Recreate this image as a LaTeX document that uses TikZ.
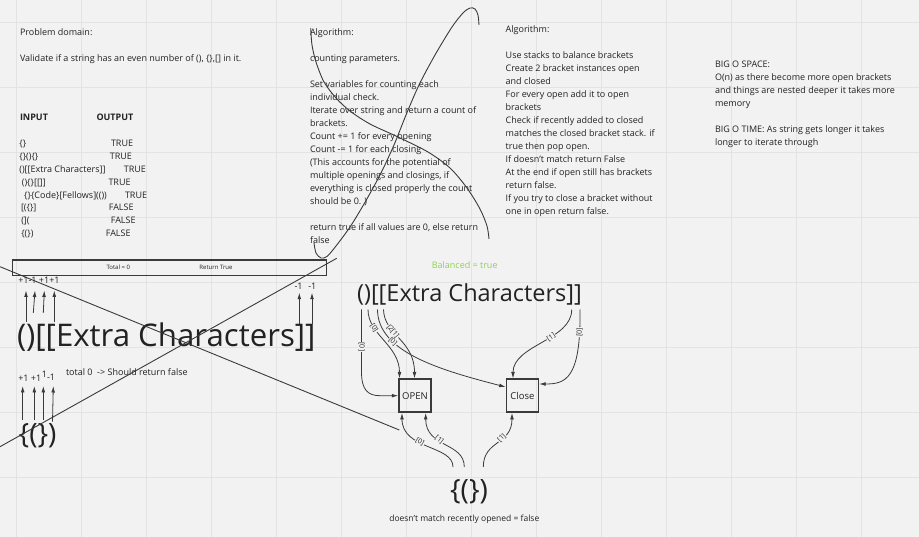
\documentclass[tikz,border=0pt]{standalone}
\usepackage{fontspec}
\setmainfont{Open Sans}
\usetikzlibrary{arrows.meta}
\definecolor{bg}{HTML}{F2F2F2}
\definecolor{gridc}{HTML}{E3E3E3}
\definecolor{ink}{HTML}{222222}
\definecolor{linec}{HTML}{3A3A3A}
\definecolor{okgreen}{HTML}{8FD14F}
\newcommand\lns[1]{\begin{tabular}[t]{@{}l@{}}#1\end{tabular}}
\begin{document}
\begin{tikzpicture}[x=1pt,y=-1pt,
 gridline/.style={gridc, line width=0.9pt},
 txt/.style={anchor=base west, inner sep=0pt, outer sep=0pt, text=ink, font=\fontsize{9}{13}\selectfont},
 boldtxt/.style={txt, font=\fontsize{9}{13}\selectfont\bfseries},
 smalltxt/.style={inner sep=0pt, text=ink, font=\fontsize{6}{7}\selectfont},
 bigtxt/.style={inner sep=0pt, text=ink, font=\fontsize{31.2}{37}\selectfont},
 midtxt/.style={inner sep=0pt, text=ink, font=\fontsize{23.5}{28}\selectfont},
 bracetxt/.style={inner sep=0pt, text=ink, font=\fontsize{28}{34}\selectfont},
 arr/.style={-{Latex[length=6.5pt,width=3.8pt]}, linec, line width=0.8pt},
 lbl/.style={fill=bg, inner sep=0.6pt, text=ink, font=\fontsize{7}{8}\selectfont, sloped},
 boxn/.style={draw=linec, line width=1.5pt, minimum width=32pt, minimum height=33pt, inner sep=0pt, text=ink, font=\fontsize{9.5}{11}\selectfont},
 stroke/.style={linec, line width=0.9pt},
]
% background and grid
\fill[bg] (0,0) rectangle (919,537);
\useasboundingbox (0,0) rectangle (919,537);
\foreach \gx in {16,81,...,861} \draw[gridline] (\gx,0) -- (\gx,537);
\foreach \gy in {22,87,...,477} \draw[gridline] (0,\gy) -- (919,\gy);

% left column
\node[txt] (pd) at (20,35.5) {\lns{Problem domain:\\ \\ Validate if a string has an even number of (), \{\},[] in it.}};
\node[boldtxt] (inh) at (20,120.5) {INPUT};
\node[boldtxt] (outh) at (96.5,120.5) {OUTPUT};
\node[txt] (in1) at (19.4,147) {\{\}};
\node[txt] (in2) at (19.4,159.8) {\{\}()\{\}};
\node[txt] (in3) at (19.4,172.6) {()[[Extra Characters]]};
\node[txt] (in4) at (21.9,185.4) {()\{\}[[]]};
\node[txt] (in5) at (24.2,198.2) {\{\}\{Code\}[Fellows](())};
\node[txt] (in6) at (21,211) {[(\{\}]};
\node[txt] (in7) at (21.3,223.8) {(](};
\node[txt] (in8) at (21.3,236.6) {\{(\})};
\node[txt] (out1) at (111,147) {TRUE};
\node[txt] (out2) at (109.8,159.8) {TRUE};
\node[txt] (out3) at (123.8,172.6) {TRUE};
\node[txt] (out4) at (108.5,185.4) {TRUE};
\node[txt] (out5) at (125,198.2) {TRUE};
\node[txt] (out6) at (108.8,211) {FALSE};
\node[txt] (out7) at (110.8,223.8) {FALSE};
\node[txt] (out8) at (105.8,236.6) {FALSE};

% middle algorithm
\node[txt] (alg1) at (310,36) {\lns{Algorithm:\\ \\ counting parameters.\\ \\ Set variables for counting each\\ individual check.\\ Iterate over string and return a count of\\ brackets.\\ Count += 1 for every opening\\ Count -= 1 for each closing\\ (This accounts for the potential of\\ multiple openings and closings, if\\ everything is closed properly the count\\ should be 0. )\\ \\ return true if all values are 0, else return\\ false}};

% right algorithm
\node[txt] (alg2) at (505.7,33) {\lns{Algorithm:\\ \\ Use stacks to balance brackets\\ Create 2 bracket instances open\\ and closed\\ For every open add it to open\\ brackets\\ Check if recently added to closed\\ matches the closed bracket stack. if\\ true then pop open.\\ If doesn't match return False\\ At the end if open still has brackets\\ return false.\\ If you try to close a bracket without\\ one in open return false.}};

% big O
\node[txt] (bigo) at (715,67.3) {\lns{BIG O SPACE:\\ O(n) as there become more open brackets\\ and things are nested deeper it takes more\\ memory\\ \\ BIG O TIME: As string gets longer it takes\\ longer to iterate through}};

% lower left
\node[draw=linec, line width=1.2pt, minimum width=314pt, minimum height=15.5pt, inner sep=0pt] (bar) at (169.7,267.8) {};
\node[smalltxt] (tot) at (118.3,267.5) {Total = 0};
\node[smalltxt] (ret) at (216,267.5) {Return True};
\node[txt] (pl1) at (18.3,283.3) {+1-1 +1+1};
\node[txt] (mi1) at (294.5,290) {-1};
\node[txt] (mi2) at (308.3,290) {-1};
\node[bigtxt, anchor=base west] (ex1) at (16.8,346.7) {()[[Extra Characters]]};
\node[txt] (tot0) at (66,376) {total 0~~-> Should return false};
\node[txt] (pl2) at (18.3,381.5) {+1 +1};
\node[txt] (pl3) at (41.8,377.5) {1};
\node[txt] (pl4) at (47,380.8) {-1};
\node[bracetxt, anchor=base west] (br1) at (18.5,443.5) {\{(\})};

\foreach \n/\xa/\ya/\xb/\yb in {1/26/322/26/290.5, 2/33.3/313/35/290.5, 3/43.3/313/44.3/290.5, 4/54.3/322/54.3/290.5, 5/299.3/324/299.3/292.7, 6/312/324/312/292.7, 7/22.7/420/22.7/386, 8/34.3/420/34.3/386, 9/43.3/420/43.3/386, 10/52.5/421.7/53.3/386}{
  \coordinate (ta\n) at (\xa,\ya);
  \coordinate (tb\n) at (\xb,\yb);
  \draw[arr] (ta\n) -- (tb\n);
}

% right diagram
\node[txt, anchor=base, text=okgreen] (bal) at (464.7,268.8) {Balanced = true};
\node[midtxt, anchor=base] (ex2) at (469.5,302) {()[[Extra Characters]]};
\node[bracetxt, anchor=base] (br2) at (469,499.5) {\{(\})};
\node[txt, anchor=base, font=\fontsize{8.5}{10}\selectfont] (dm) at (464.3,521.5) {doesn't match recently opened = false};
\node[boxn] (open) at (415,395.7) {OPEN};
\node[boxn] (close) at (522.4,395.7) {Close};

\coordinate (s1) at (361.5,309.5);
\coordinate (s2) at (368,309.5);
\coordinate (s3) at (377.5,309.5);
\coordinate (s4) at (383.5,309.5);
\coordinate (s5) at (571.7,309.5);
\coordinate (s6) at (580,309.5);
\coordinate (b1) at (453,467);
\coordinate (b2) at (464.3,467);
\coordinate (b3) at (483.3,467);

\draw[arr] (s1) -- (361.5,372) node[lbl,pos=.6]{[0]} .. controls (361.5,390) and (368,395.7) .. (380,395.7) -- (open.west);
\draw[arr] (s2) .. controls (368,335) and (399.5,345) .. ([xshift=-15.5pt]open.north) node[lbl,pos=.28]{[0]};
\draw[arr] (s4) .. controls (384,335) and (414.5,340) .. ([xshift=-0.5pt]open.north) node[lbl,pos=.36]{[2[1]};
\draw[arr] (s3) .. controls (377.5,352) and (440,370) .. ([yshift=8.7pt]close.west) node[lbl,pos=.3]{[0]};
\draw[arr] (s5) .. controls (572,340) and (513,345) .. ([xshift=-9.4pt]close.north) node[lbl,pos=.4]{[1]};
\draw[arr] (s6) .. controls (581,380) and (565,384) .. ([yshift=11.7pt]close.east) node[lbl,pos=.12]{[0]};
\draw[arr] (b1) .. controls (453,445) and (402,450) .. ([xshift=-13pt]open.south) node[lbl,pos=.6]{[0]};
\draw[arr] (b2) .. controls (464.3,442) and (425.7,448) .. ([xshift=10.7pt]open.south) node[lbl,pos=.6]{[1]};
\draw[arr] (b3) .. controls (483.3,440) and (512,445) .. ([xshift=-10.4pt]close.south) node[lbl,pos=.6]{[1]};

% crossing strokes
\draw[stroke] (0,266.7) -- (399.3,430);
\draw[stroke] (0,446.7) -- (336.7,258.3);
\draw[stroke] plot[smooth] coordinates {(310.7,28) (312,45) (316,62) (324,82) (336,98) (350,111) (370,124) (398,137) (428,152) (450,168) (467,188) (480,209) (487,226) (489,239)};
\draw[stroke] plot[smooth] coordinates {(314,243) (316,253) (321,258) (327,256.5) (336,246) (350,227) (364,204) (380,175) (394,145) (406,115) (419,85) (435,55) (452,27) (463,13) (470,8) (475,9) (478,15) (479,25)};
\end{tikzpicture}
\end{document}
